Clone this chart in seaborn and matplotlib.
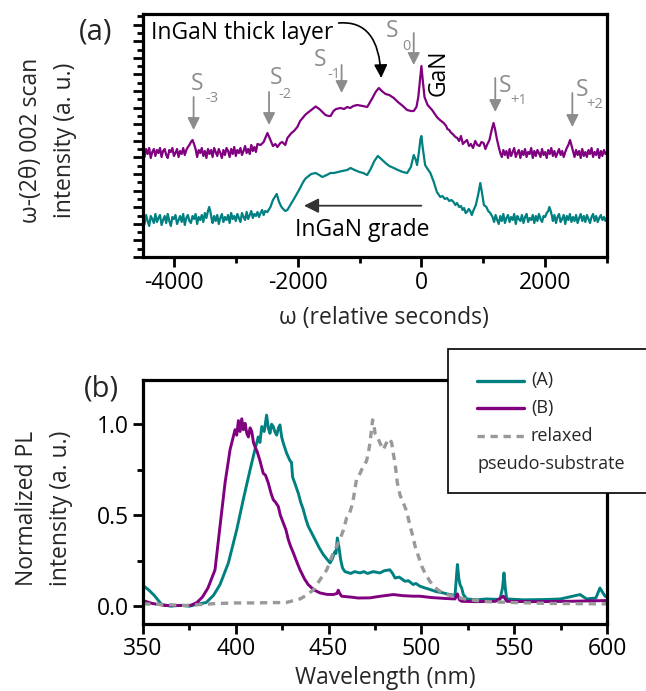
import numpy as np
import pandas as pd
import matplotlib
matplotlib.use("Agg")
import matplotlib.pyplot as plt
import seaborn as sns
from matplotlib.ticker import MultipleLocator, NullFormatter
from matplotlib.patches import Rectangle
from matplotlib.lines import Line2D

# ---------------- data: panel (a) XRD omega-2theta scans ----------------
# scan (B, purple, upper trace): omega grid (arcsec) and intensity (a.u., offset trace)
omB_1 = list(range(-4500, -3750, 25))
inB_1 = [106, 100, 108, 103, 109, 99, 105, 108, 101, 107, 104, 109, 100, 106, 108, 102, 99, 107, 105, 109,
         101, 104, 108, 100, 106, 103, 109, 102, 107, 110]
omB_2 = [-3750, -3725, -3700, -3675, -3650]
inB_2 = [112, 115, 117, 113, 108]
omB_3 = list(range(-3625, -2625, 25))
inB_3 = [100, 107, 104, 109, 101, 106, 99, 108, 103, 107, 100, 109, 105, 101, 108, 104, 99, 107, 102, 109,
         106, 100, 108, 103, 110, 101, 107, 104, 109, 102, 106, 111, 104, 108, 103, 112, 106, 110, 105, 113]
omB_4 = [-2600, -2550, -2489, -2440, -2400, -2360, -2327, -2280, -2250, -2200, -2166, -2100, -2060, -2005,
         -1960, -1920, -1880, -1843, -1780, -1710, -1650, -1600, -1550, -1500, -1468, -1420, -1380, -1306,
         -1250, -1200, -1150, -1100, -1037, -950, -876, -800, -740, -688, -640, -580, -520, -446, -380,
         -300, -231, -170, -124, -80, -50, -25, 0, 20, 50, 100, 173, 250, 300, 360, 400, 420, 450, 470,
         521, 550, 580, 610, 640, 670, 700, 737, 770, 800, 835, 870, 905, 940, 970, 1005, 1035, 1060, 1100,
         1140, 1166, 1190, 1220, 1250]
inB_4 = [112, 115, 124, 117, 111, 113, 110, 114, 115, 112, 119, 124, 126, 130, 136, 139, 142, 144, 147,
         150.5, 148, 145, 142, 141, 141, 146, 148, 149, 148, 150, 149, 151, 152, 151, 150, 158, 165, 169,
         166, 163, 162, 159, 155, 151, 147, 146, 146, 150, 160, 175, 191, 178, 160, 152, 147, 140, 137,
         134, 131, 128, 127, 125, 122, 120, 119, 116, 121, 113, 115, 117, 111, 113, 109, 116, 112, 111,
         115, 114, 108, 112, 117, 128, 134, 128, 118, 110]
omB_5 = list(range(1275, 2375, 25))
inB_5 = [104, 100, 107, 102, 106, 99, 108, 101, 105, 109, 100, 104, 107, 99, 106, 102, 108, 100, 105, 103,
         109, 99, 106, 101, 107, 104, 100, 108, 102, 105, 99, 107, 103, 109, 101, 106, 100, 104, 108, 102,
         106, 100, 105, 109]
omB_6 = [2375, 2403, 2425, 2450]
inB_6 = [112, 117, 112, 106]
omB_7 = list(range(2475, 3025, 25))
inB_7 = [100, 107, 102, 106, 99, 108, 101, 105, 100, 107, 103, 109, 100, 105, 102, 108, 99, 106, 101, 107,
         103, 105]

# scan (A, teal, lower trace)
omA_1 = list(range(-4500, -3450, 25))
inA_1 = [40, 33, 42, 36, 31, 41, 38, 34, 43, 35, 39, 42, 32, 37, 41, 34, 43, 36, 31, 40, 38, 42, 33, 37, 41,
         35, 43, 32, 39, 42, 36, 34, 41, 38, 43, 33, 40, 37, 42, 35, 44, 39]
omA_2 = [-3450, -3430, -3410, -3390]
inA_2 = [46, 50, 45, 38]
omA_3 = list(range(-3375, -2500, 25))
inA_3 = [34, 41, 36, 42, 33, 39, 43, 35, 40, 37, 42, 34, 44, 38, 41, 36, 43, 39, 35, 44, 40, 37, 45, 38, 42,
         46, 39, 43, 41, 45, 40, 44, 47, 42, 46]
omA_4 = [-2489, -2460, -2440, -2400, -2370, -2339, -2300, -2270, -2250, -2200, -2166, -2100, -2060, -2005,
         -1960, -1920, -1880, -1843, -1780, -1710, -1650, -1602, -1530, -1470, -1414, -1350, -1280, -1200,
         -1145, -1080, -1000, -940, -876, -820, -760, -705, -650, -580, -520, -446, -380, -300, -231, -170,
         -124, -90, -70, -40, -15, 0, 20, 60, 100, 145, 200, 250, 306, 340, 380, 415, 450, 485, 520, 550,
         576, 610, 640, 665, 690, 715, 737, 765, 790, 815, 844, 880, 920, 952, 980, 1010, 1050, 1080, 1113]
inA_4 = [45, 48, 50, 57, 60, 63, 55, 51, 49, 46, 47, 54, 58, 64, 69, 74, 78, 80, 83, 84, 82, 80, 82, 84,
         84, 85, 86, 87, 89, 87, 85, 84, 82, 88, 96, 101, 98, 94, 91, 89, 87, 85, 84, 90, 102, 97, 92, 105,
         118, 121, 110, 92, 88, 84, 75, 65, 60, 61, 58, 59, 56, 57, 55, 52, 54, 50, 51, 47, 49, 44, 45, 48,
         46, 42, 47, 52, 63, 74, 64, 52, 50, 46, 44]
omA_5 = list(range(1150, 2050, 25))
inA_5 = [40, 35, 42, 37, 33, 41, 36, 43, 34, 39, 42, 35, 40, 37, 43, 33, 41, 38, 36, 42, 34, 40, 43, 35, 39,
         37, 42, 34, 41, 36, 43, 38, 35, 41, 40, 44]
omA_6 = [2050, 2069, 2090, 2110]
inA_6 = [46, 50, 46, 41]
omA_7 = list(range(2125, 3025, 25))
inA_7 = [36, 42, 34, 40, 43, 35, 38, 42, 33, 41, 37, 43, 35, 40, 36, 42, 34, 39, 43, 36, 41, 35, 42, 38, 34,
         40, 43, 36, 41, 35, 39, 42, 37, 40, 36, 40]

omega_B = omB_1 + omB_2 + omB_3 + omB_4 + omB_5 + omB_6 + omB_7
int_B = inB_1 + inB_2 + inB_3 + inB_4 + inB_5 + inB_6 + inB_7
omega_A = omA_1 + omA_2 + omA_3 + omA_4 + omA_5 + omA_6 + omA_7
int_A = inA_1 + inA_2 + inA_3 + inA_4 + inA_5 + inA_6 + inA_7

s_labels = ["-3", "-2", "-1", "0", "+1", "+2"]

# ---------------- data: panel (b) PL spectra ----------------
wl_A = [350, 353, 356, 360, 365, 370, 375, 380, 384, 388, 391.5, 396, 400.5, 404, 407.7, 410.3, 412.1, 413,
        414, 415.3, 416.6, 417.5, 418.4, 419.3, 420.2, 421, 422, 423, 423.8, 424.7, 425.6, 427.4, 428.3,
        429.2, 430, 430.6, 432, 433.7, 435, 436.4, 437.7, 439, 441, 442.7, 445, 447.2, 449, 450.8, 452,
        453.4, 454, 454.7, 455.5, 456.5, 457.5, 458.8, 462, 464, 466.9, 469, 471, 474, 477.7, 480, 483,
        484.5, 485.8, 488, 491.2, 493, 495.6, 497, 499.2, 502, 504.6, 508, 511, 513.6, 518.1, 519.4, 520.2,
        520.8, 521.7, 522.6, 524.4, 530, 535, 542.3, 543.7, 544.5, 545.3, 546, 555, 567.5, 575, 585.5, 589,
        594, 596.2, 598, 599, 600]
pl_A = [0.114, 0.09, 0.06, 0.01, 0.0, 0.005, 0.0, 0.013, 0.02, 0.06, 0.119, 0.238, 0.42, 0.585, 0.75, 0.86,
        0.93, 0.9, 0.987, 0.96, 1.05, 0.98, 0.95, 1.0, 0.987, 0.96, 0.94, 0.98, 0.996, 0.93, 0.896, 0.84,
        0.82, 0.80, 0.79, 0.71, 0.67, 0.62, 0.57, 0.53, 0.48, 0.44, 0.40, 0.366, 0.32, 0.283, 0.26, 0.238,
        0.26, 0.30, 0.29, 0.375, 0.33, 0.256, 0.21, 0.19, 0.18, 0.19, 0.183, 0.19, 0.18, 0.19, 0.183,
        0.195, 0.20, 0.18, 0.155, 0.16, 0.137, 0.14, 0.119, 0.125, 0.11, 0.10, 0.092, 0.08, 0.075, 0.068,
        0.059, 0.229, 0.15, 0.119, 0.10, 0.064, 0.04, 0.035, 0.04, 0.037, 0.10, 0.183, 0.09, 0.04, 0.035,
        0.037, 0.04, 0.064, 0.04, 0.045, 0.10, 0.07, 0.055, 0.05]

wl_B = [350, 355, 362, 370, 375.5, 379, 382, 385, 388.8, 391.5, 394.2, 396.9, 399.6, 400.5, 401.4, 402.3,
        403.2, 404.1, 405, 405.9, 406.8, 407.7, 408.6, 409.5, 410.3, 411.5, 413, 414.8, 416, 417.5, 419,
        420.2, 421.5, 422.9, 424, 425.6, 427, 428.3, 429.5, 431, 433, 434.6, 437, 439, 442, 445.4, 449,
        452.5, 454.5, 455.2, 456, 457, 462, 466, 472.3, 478, 484.9, 490, 495.6, 499.2, 505, 513.6, 518.1,
        519.4, 520.5, 521.7, 530, 540, 544.2, 546, 560, 580, 599, 600]
pl_B = [0.031, 0.015, 0.004, 0.004, 0.004, 0.02, 0.05, 0.10, 0.20, 0.44, 0.677, 0.86, 0.97, 0.94, 1.02,
        0.96, 1.03, 0.97, 1.005, 0.95, 0.93, 0.98, 0.96, 0.90, 0.877, 0.85, 0.80, 0.73, 0.72, 0.677, 0.62,
        0.585, 0.57, 0.548, 0.50, 0.457, 0.42, 0.366, 0.33, 0.293, 0.24, 0.20, 0.15, 0.119, 0.09, 0.073,
        0.065, 0.064, 0.07, 0.088, 0.07, 0.055, 0.05, 0.045, 0.046, 0.055, 0.064, 0.058, 0.055, 0.055,
        0.048, 0.042, 0.04, 0.068, 0.035, 0.027, 0.025, 0.027, 0.055, 0.027, 0.025, 0.027, 0.031, 0.03]

wl_R = [350, 360, 373, 390, 400, 410, 420, 427, 434.6, 438, 441.8, 445, 449, 452, 456.1, 458, 459.7, 461,
        462.4, 463.5, 465, 466.5, 467.8, 469, 470.5, 471.5, 472.3, 473, 473.7, 474.4, 475, 476.3, 477.7,
        479.5, 480.8, 482.2, 483, 484, 485, 485.8, 487, 488.5, 490.3, 492.1, 493.9, 495.5, 496.6, 498.4,
        500.2, 502, 504.6, 507, 510, 513.5, 517.2, 524.4, 535, 550, 570, 600]
pl_R = [0.013, 0.01, 0.004, 0.015, 0.018, 0.018, 0.02, 0.02, 0.04, 0.06, 0.09, 0.14, 0.20, 0.28, 0.366,
        0.42, 0.485, 0.50, 0.548, 0.60, 0.695, 0.72, 0.75, 0.77, 0.80, 0.85, 0.896, 0.96, 1.024, 1.0,
        0.95, 0.93, 0.896, 0.86, 0.89, 0.914, 0.92, 0.896, 0.83, 0.786, 0.68, 0.61, 0.567, 0.52, 0.44,
        0.38, 0.33, 0.274, 0.22, 0.18, 0.137, 0.105, 0.082, 0.065, 0.055, 0.037, 0.025, 0.02, 0.015, 0.013]

legend_labels = ["(A)", "(B)", "relaxed", "pseudo-substrate"]

# ---------------- style ----------------
sns.set_theme(style="ticks")
FONT = ["Open Sans", "DejaVu Sans"]
plt.rcParams["font.family"] = FONT
plt.rcParams["axes.unicode_minus"] = False
TEAL = "#008080"
PURPLE = "#800080"
GRAY = "#8c8c8c"
DGRAY = "#999999"
FS = 16.5

W, H = 646, 691
fig = plt.figure(figsize=(W / 100, H / 100), dpi=100)


def box(x0, y0, x1, y1):
    return [x0 / W, 1 - y1 / H, (x1 - x0) / W, (y1 - y0) / H]


axA = fig.add_axes(box(143, 14, 607, 257))
axB = fig.add_axes(box(143, 380, 607, 623.5))

for ax in (axA, axB):
    for s in ax.spines.values():
        s.set_linewidth(2.3)
        s.set_color("black")
        s.set_visible(True)
    ax.tick_params(which="major", direction="out", length=7, width=2.0, colors="black",
                   labelsize=FS, pad=3)
    ax.tick_params(which="minor", direction="out", length=4.5, width=2.0, colors="black")

# ---- panel (a)
dfA = pd.DataFrame({"omega": omega_A, "I": int_A})
dfB = pd.DataFrame({"omega": omega_B, "I": int_B})
sns.lineplot(data=dfB, x="omega", y="I", color=PURPLE, lw=1.6, sort=False, estimator=None, ax=axA)
sns.lineplot(data=dfA, x="omega", y="I", color=TEAL, lw=1.6, sort=False, estimator=None, ax=axA)
axA.set_xlim(-4500, 3000)
axA.set_ylim(0, 243)
axA.xaxis.set_major_locator(MultipleLocator(2000))
axA.xaxis.set_minor_locator(MultipleLocator(1000))
axA.yaxis.set_major_locator(MultipleLocator(16.6))
axA.yaxis.set_minor_locator(MultipleLocator(8.3))
axA.yaxis.set_major_formatter(NullFormatter())
axA.set_xlabel("ω (relative seconds)", fontsize=FS)
axA.xaxis.set_label_coords((384 - 143) / 464, -(306 - 257) / 243)
axA.set_ylabel("ω-(2θ) 002 scan\nintensity (a. u.)", fontsize=FS, linespacing=1.55)
axA.yaxis.set_label_coords((77 - 143) / 464, (257 - 140) / 243)

# S labels and arrows
s_arrow_x = [-3682, -2463, -1290, -124, 1194, 2440]
s_arrow_top = [160, 165, 192, 224, 179, 164]
s_arrow_bot = [127, 132, 164, 192, 145, 130]
s_pos = [(-3629, 173), (-2355, 179), (-1645, 197), (-468, 226), (1355, 171), (2592, 167)]
s_sub = [(-3390, 159), (-2210, 163), (-1419, 182), (-245, 211), (1569, 157), (2806, 153)]
for i, lab in enumerate(s_labels):
    axA.annotate("", xy=(s_arrow_x[i], s_arrow_bot[i]), xytext=(s_arrow_x[i], s_arrow_top[i]),
                 arrowprops=dict(arrowstyle="-|>", color=GRAY, lw=1.3, mutation_scale=18,
                                 shrinkA=0, shrinkB=0))
    axA.text(s_pos[i][0], s_pos[i][1], "S", color=GRAY, fontsize=FS, ha="center", va="center")
    axA.text(s_sub[i][0], s_sub[i][1], lab, color=GRAY, fontsize=10.5, ha="center", va="center")

axA.text(-2895, 224, "InGaN thick layer", fontsize=FS, ha="center", va="center", color="black")
axA.annotate("", xy=(-650, 179), xytext=(-1339, 234),
             arrowprops=dict(arrowstyle="-|>", color="black", lw=1.2, mutation_scale=20,
                             shrinkA=0, shrinkB=0, connectionstyle="angle3,angleA=5,angleB=-88"))
axA.text(274, 184, "GaN", fontsize=FS, rotation=90, ha="center", va="center", color="black")
axA.annotate("", xy=(-1898, 51.3), xytext=(0, 51.3),
             arrowprops=dict(arrowstyle="-|>", color="#333333", lw=1.3, mutation_scale=22,
                             shrinkA=0, shrinkB=0))
axA.text(-960, 27, "InGaN grade", fontsize=FS, ha="center", va="center", color="black")
fig.text(96 / W, 1 - 32 / H, "(a)", fontsize=21, ha="center", va="center")

# ---- panel (b)
sns.lineplot(x=wl_A, y=pl_A, color=TEAL, lw=2.1, sort=False, estimator=None, ax=axB)
sns.lineplot(x=wl_B, y=pl_B, color=PURPLE, lw=2.1, sort=False, estimator=None, ax=axB)
sns.lineplot(x=wl_R, y=pl_R, color=DGRAY, lw=2.4, sort=False, estimator=None, ax=axB,
             linestyle=(0, (2.2, 1.7)))
axB.set_xlim(350, 600)
axB.set_ylim(-0.095, 1.243)
axB.xaxis.set_major_locator(MultipleLocator(50))
axB.xaxis.set_minor_locator(MultipleLocator(25))
axB.yaxis.set_major_locator(MultipleLocator(0.5))
axB.yaxis.set_minor_locator(MultipleLocator(0.25))
axB.yaxis.set_major_formatter(plt.FuncFormatter(lambda v, p: f"{v:.1f}"))
axB.set_xlabel("Wavelength (nm)", fontsize=FS)
axB.xaxis.set_label_coords((385 - 143) / 464, -(666 - 623.5) / 243.5)
axB.set_ylabel("Normalized PL\nintensity (a. u.)", fontsize=FS, linespacing=1.55)
axB.yaxis.set_label_coords((73 - 143) / 464, (623.5 - 508) / 243.5)
fig.text(101 / W, 1 - 389 / H, "(b)", fontsize=21, ha="center", va="center")

# legend box (drawn in figure pixels)
fig.add_artist(Rectangle((448 / W, 1 - 493 / H), 0.4, 144 / H, transform=fig.transFigure,
                         facecolor="white", edgecolor="black", lw=1.2, zorder=10))
leg_rows = [(380.5, TEAL, "-"), (407.6, PURPLE, "-"), (436.1, DGRAY, (0, (2.2, 1.7)))]
for (yy, col, ls), lab in zip(leg_rows, legend_labels[:3]):
    fig.add_artist(Line2D([476.5 / W, 524 / W], [1 - yy / H, 1 - yy / H], transform=fig.transFigure,
                          color=col, lw=2.4, linestyle=ls, zorder=11))
    fig.text(530.8 / W, 1 - yy / H, lab, fontsize=13, ha="left", va="center", zorder=12)
fig.text(477.8 / W, 1 - 463.7 / H, legend_labels[3], fontsize=13, ha="left", va="center", zorder=12)

fig.savefig("out.png", dpi=100)
